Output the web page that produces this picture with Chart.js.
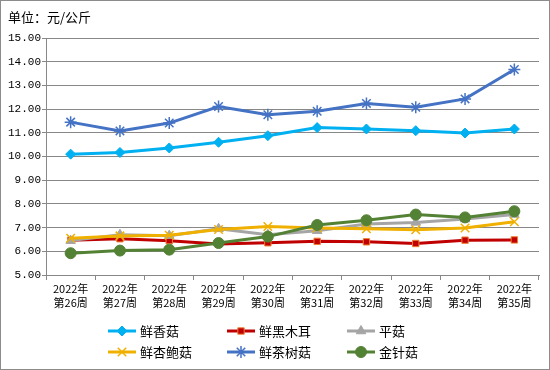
<!DOCTYPE html>
<html><head><meta charset="utf-8">
<script src="https://cdn.jsdelivr.net/npm/chart.js@4/dist/chart.umd.min.js"></script>
<style>html,body{margin:0;padding:0;background:#fff}canvas{display:block}</style>
</head><body>
<canvas id="c" width="550" height="370"></canvas>
<script>
const unitTitle = '单位：元/公斤';
const years = ['2022年','2022年','2022年','2022年','2022年','2022年','2022年','2022年','2022年','2022年'];
const weeks = ['第26周','第27周','第28周','第29周','第30周','第31周','第32周','第33周','第34周','第35周'];
const seriesNames = ['鲜香菇','鲜黑木耳','平菇','鲜杏鲍菇','鲜茶树菇','金针菇'];
const xianxianggu = [10.10,10.17,10.36,10.60,10.88,11.22,11.16,11.09,10.99,11.16];
const heimuer     = [6.47,6.53,6.45,6.31,6.36,6.42,6.40,6.33,6.47,6.48];
const pinggu      = [6.45,6.70,6.66,6.95,6.70,6.87,7.15,7.22,7.36,7.55];
const xingbaogu   = [6.55,6.65,6.68,6.92,7.05,6.98,6.95,6.91,6.98,7.25];
const chashugu    = [11.45,11.08,11.41,12.11,11.76,11.91,12.24,12.08,12.43,13.67];
const jinzhengu   = [5.92,6.03,6.07,6.35,6.62,7.11,7.31,7.55,7.43,7.69];
const yMin = 5, yMax = 15, yStep = 1;

const labels = years.map((y,i)=>[y, weeks[i]]);
const styles = [
  {c:'#00B0F0', bg:'#00B0F0', bc:'#00B0F0', ps:'rectRot', r:5},
  {c:'#C00000', bg:'#C00000', bc:'#ED7D31', ps:'rect', r:4.5},
  {c:'#A5A5A5', bg:'#A5A5A5', bc:'#A5A5A5', ps:'triangle', r:5.5},
  {c:'#F0B000', bg:'#F0B000', bc:'#F0B000', ps:'crossRot', r:6},
  {c:'#4472C4', bg:'#4472C4', bc:'#4472C4', ps:'star', r:6},
  {c:'#548235', bg:'#548235', bc:'#548235', ps:'circle', r:5.5}
];
const values = [xianxianggu, heimuer, pinggu, xingbaogu, chashugu, jinzhengu];
const datasets = seriesNames.map((n,i)=>({
  label:n, data:values[i], borderColor:styles[i].c, backgroundColor:styles[i].bg,
  pointBorderColor:styles[i].bc, pointBackgroundColor:styles[i].bg,
  pointStyle:styles[i].ps, pointRadius:styles[i].r, pointHoverRadius:styles[i].r,
  pointBorderWidth:(styles[i].ps==='crossRot'||styles[i].ps==='star')?1.5:1,
  borderWidth:3, tension:0, order: seriesNames.length - i
}));

const frame = {
  id:'frame',
  beforeDraw(chart){
    const ctx = chart.ctx;
    ctx.save();
    ctx.fillStyle = '#fff';
    ctx.fillRect(0,0,chart.width,chart.height);
    ctx.restore();
  },
  afterDraw(chart){
    const ctx = chart.ctx;
    ctx.save();
    ctx.strokeStyle = '#8c8c8c'; ctx.lineWidth = 1;
    ctx.strokeRect(0.5,0.5,chart.width-1,chart.height-1);
    ctx.fillStyle = '#000';
    ctx.font = "13px 'Noto Sans CJK SC', sans-serif";
    ctx.textBaseline = 'middle'; ctx.textAlign = 'left';
    ctx.fillText(unitTitle, 8, 17);
    // legend
    const colX = [108, 227, 347];
    const rowY = [331, 352];
    chart.data.datasets.forEach((ds,i)=>{
      const x = colX[i%3], y = rowY[Math.floor(i/3)];
      ctx.strokeStyle = ds.borderColor; ctx.lineWidth = 3;
      ctx.beginPath(); ctx.moveTo(x,y); ctx.lineTo(x+28,y); ctx.stroke();
      ctx.fillStyle = ds.pointBackgroundColor; ctx.strokeStyle = ds.pointBorderColor;
      ctx.lineWidth = ds.pointBorderWidth;
      Chart.helpers.drawPoint(ctx, {pointStyle: ds.pointStyle, radius: ds.pointRadius, rotation:0, borderWidth: ds.pointBorderWidth}, x+14, y);
      ctx.fillStyle = '#000';
      ctx.font = "13px 'Noto Sans CJK SC', sans-serif";
      ctx.fillText(ds.label, x+32, y);
    });
    ctx.restore();
  }
};

new Chart(document.getElementById('c'), {
  type:'line',
  data:{labels, datasets},
  options:{
    responsive:false, animation:false, devicePixelRatio:1,
    layout:{padding:{left:0,right:11,top:38,bottom:0}},
    plugins:{legend:{display:false}, tooltip:{enabled:false}},
    scales:{
      x:{
        offset:true,
        grid:{drawOnChartArea:false, drawTicks:true, offset:true, tickLength:5, color:'#888'},
        border:{color:'#888', width:1},
        ticks:{color:'#000', font:{family:"'Noto Sans CJK SC', sans-serif", size:11, lineHeight:1.25}, maxRotation:0, autoSkip:false, padding:2},
        afterFit(s){ s.height = 95; }
      },
      y:{
        min:yMin, max:yMax,
        grid:{color:'#888', tickLength:4, drawTicks:true},
        border:{color:'#888', width:1},
        ticks:{stepSize:yStep, color:'#000', padding:1, font:{family:"'Liberation Mono', monospace", size:11},
          callback:v=>Number(v).toFixed(2)},
        afterFit(s){ s.width = 46; }
      }
    }
  },
  plugins:[frame]
});
</script>
</body></html>
